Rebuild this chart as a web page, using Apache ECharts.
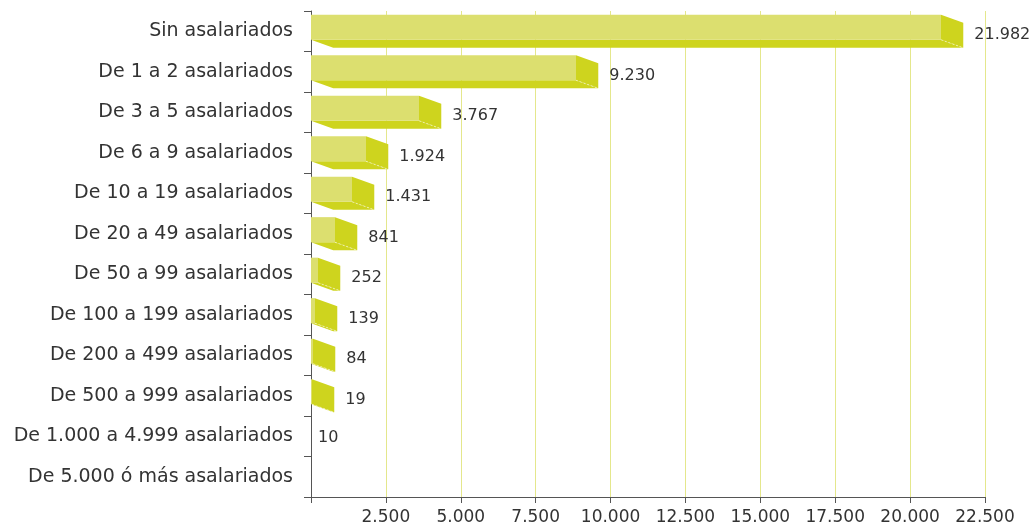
<!DOCTYPE html>
<html>
<head>
<meta charset="utf-8">
<script src="https://cdn.jsdelivr.net/npm/echarts@6/dist/echarts.min.js"></script>
<style>
html,body{margin:0;padding:0;background:#fff;}
#chart{width:1035px;height:528px;}
</style>
</head>
<body>
<div id="chart"></div>
<script>
const categories = [
  'Sin asalariados',
  'De 1 a 2 asalariados',
  'De 3 a 5 asalariados',
  'De 6 a 9 asalariados',
  'De 10 a 19 asalariados',
  'De 20 a 49 asalariados',
  'De 50 a 99 asalariados',
  'De 100 a 199 asalariados',
  'De 200 a 499 asalariados',
  'De 500 a 999 asalariados',
  'De 1.000 a 4.999 asalariados',
  'De 5.000 ó más asalariados'
];
const values = [21982, 9230, 3767, 1924, 1431, 841, 252, 139, 84, 19, 10, null];
const axisMin = 0;
const axisMax = 22500;
const axisInterval = 2500;
const barScaleMax = 23500; // depth-plane scale of the 3D bars

const FRONT = '#dcdf6f';
const SIDE = '#ced41e';
const GRID = '#e4e78c';
const FONT = 'DejaVu Sans';

function fmt(v) {
  return String(v).replace(/\B(?=(\d{3})+(?!\d))/g, '.');
}

const chart = echarts.init(document.getElementById('chart'));

const seriesData = values.map((v, i) => v == null ? null : [v, i]).filter(d => d);

function renderItem(params, api) {
  const v = api.value(0);
  const idx = api.value(1);
  const p0 = api.coord([0, idx]);
  const p1 = api.coord([v, idx]);
  const bh = api.size([0, 1])[1];
  const c = p0[1];
  const x0 = p0[0];
  const w = Math.round(p1[0] - x0);
  const dy = bh * 0.2;
  const dx = dy * 2.75;
  const top = c - bh * 0.41;
  const fb = top + bh * 0.62;
  const children = [];
  const textStyle = { fontFamily: FONT, fontSize: 16, fill: '#333', verticalAlign: 'middle', align: 'left' };
  if (w <= 0) {
    children.push({ type: 'text', style: Object.assign({ x: x0 + 7, y: c + 1.5, text: fmt(v) }, textStyle) });
    return { type: 'group', children };
  }
  const x1 = x0 + w;
  children.push({
    type: 'polygon',
    shape: { points: [[x0, fb], [x1, fb], [x1 + dx, fb + dy], [x0 + dx, fb + dy]] },
    style: { fill: SIDE }
  });
  children.push({
    type: 'rect',
    shape: { x: x0, y: top, width: w, height: fb - top },
    style: { fill: FRONT }
  });
  children.push({
    type: 'polygon',
    shape: { points: [[x1, top], [x1 + dx, top + dy], [x1 + dx, fb + dy], [x1, fb]] },
    style: { fill: SIDE }
  });
  children.push({
    type: 'line',
    shape: { x1: x1, y1: fb, x2: x1 + dx, y2: fb + dy },
    style: { stroke: 'rgba(255,255,255,0.55)', lineWidth: 1, lineDash: [2, 2] }
  });
  children.push({ type: 'text', style: Object.assign({ x: x1 + dx + 11, y: c + 4, text: fmt(v) }, textStyle) });
  return { type: 'group', children };
}

chart.setOption({
  animation: false,
  textStyle: { fontFamily: FONT },
  grid: { left: 311, right: 50, top: 11, bottom: 31, containLabel: false },
  xAxis: [
    {
      type: 'value',
      min: axisMin,
      max: axisMax,
      interval: axisInterval,
      axisLine: { show: true, lineStyle: { color: '#555', width: 1 } },
      axisTick: { show: true, length: 6, lineStyle: { color: '#555' } },
      splitLine: { show: true, lineStyle: { color: GRID, width: 1 } },
      axisLabel: {
        fontFamily: FONT, fontSize: 17, color: '#333', margin: 12,
        formatter: v => v === 0 ? '' : fmt(v)
      }
    },
    {
      type: 'value',
      min: 0,
      max: barScaleMax,
      show: false,
      splitLine: { show: false }
    }
  ],
  yAxis: {
    type: 'category',
    inverse: true,
    data: categories,
    axisLine: { show: true, lineStyle: { color: '#555', width: 1 } },
    axisTick: { show: true, length: 7, lineStyle: { color: '#555' } },
    splitLine: { show: false },
    axisLabel: { fontFamily: FONT, fontSize: 19, color: '#333', margin: 18 }
  },
  series: [{
    type: 'custom',
    xAxisIndex: 1,
    yAxisIndex: 0,
    renderItem: renderItem,
    encode: { x: 0, y: 1 },
    data: seriesData,
    clip: false
  }]
});
</script>
</body>
</html>
